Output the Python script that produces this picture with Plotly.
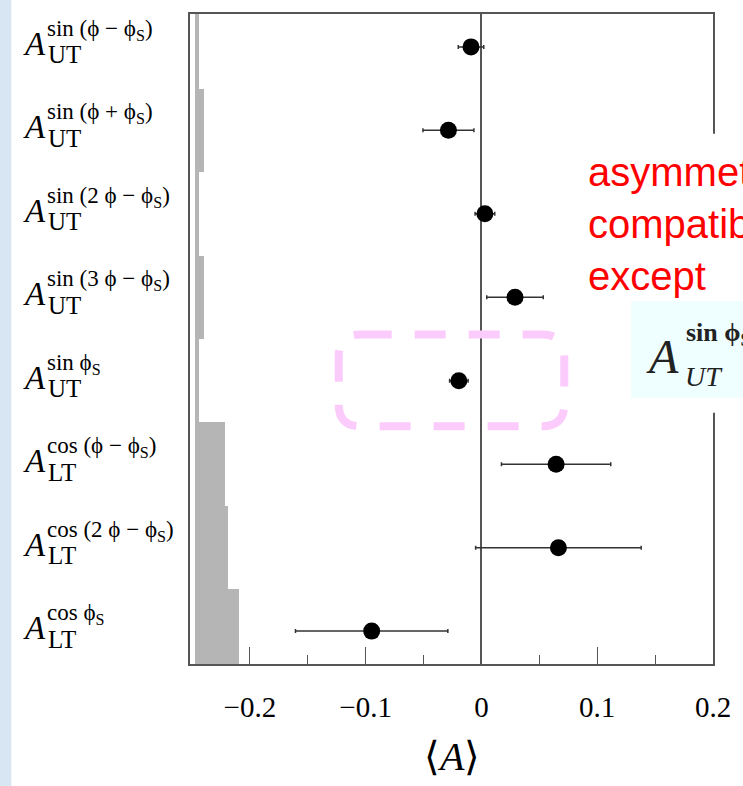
import plotly.graph_objects as go

# ---------------- data ----------------
sup_labels = ["sin (ϕ − ϕ<sub>S</sub>)", "sin (ϕ + ϕ<sub>S</sub>)", "sin (2 ϕ − ϕ<sub>S</sub>)",
              "sin (3 ϕ − ϕ<sub>S</sub>)", "sin ϕ<sub>S</sub>", "cos (ϕ − ϕ<sub>S</sub>)",
              "cos (2 ϕ − ϕ<sub>S</sub>)", "cos ϕ<sub>S</sub>"]
sub_labels = ["UT", "UT", "UT", "UT", "UT", "LT", "LT", "LT"]
values = [-0.009, -0.0285, 0.003, 0.029, -0.0195, 0.0645, 0.0665, -0.0948]
errors = [0.011, 0.022, 0.0085, 0.0244, 0.008, 0.0472, 0.0715, 0.0658]
syst = [0.004, 0.0078, 0.004, 0.0083, 0.0035, 0.026, 0.029, 0.0385]
syst_base = -0.2478
x_tickvals = [-0.2, -0.1, 0, 0.1, 0.2]
x_ticktext = ["−0.2", "−0.1", "0", "0.1", "0.2"]
x_minor = [-0.15, -0.05, 0.05, 0.15]
note_lines = ["asymmetries", "compatible", "except"]

rows = list(range(len(values)))

W, H = 743, 786
ML, MR, MT, MB = 190, 29, 12, 122
PW, PH = W - ML - MR, H - MT - MB


def px(x):
    return (x - ML) / PW


def py(y):
    return (H - MB - y) / PH


SERIF = "Liberation Serif"

fig = go.Figure()

# systematic band
fig.add_trace(go.Bar(
    y=rows, x=syst, base=syst_base, orientation="h", width=1.0,
    marker=dict(color="#b5b5b5", line=dict(width=0)),
    showlegend=False, hoverinfo="skip"))

# measurements
fig.add_trace(go.Scatter(
    x=values, y=rows, mode="markers",
    marker=dict(size=17, color="black"),
    error_x=dict(type="data", array=errors, visible=True, thickness=1.5, width=2, color="#333"),
    showlegend=False))

annotations = []
for i in rows:
    annotations.append(dict(x=px(21), y=i, xref="paper", yref="y", xanchor="left", yanchor="middle",
                            text="<i>A</i>", showarrow=False, yshift=3,
                            font=dict(family=SERIF, size=33, color="black")))
    annotations.append(dict(x=px(45), y=i, xref="paper", yref="y", xanchor="left", yanchor="middle",
                            text=sup_labels[i], showarrow=False, yshift=17,
                            font=dict(family=SERIF, size=23, color="black")))
    annotations.append(dict(x=px(46), y=i, xref="paper", yref="y", xanchor="left", yanchor="middle",
                            text=sub_labels[i], showarrow=False, yshift=-8,
                            font=dict(family=SERIF, size=25, color="black")))

# x axis title
annotations.append(dict(x=0.5, y=py(757), xref="paper", yref="paper", xanchor="center", yanchor="middle",
                        text="⟨<i>A</i>⟩", showarrow=False,
                        font=dict(family=SERIF, size=40, color="black")))

# red note
annotations.append(dict(x=px(587), y=py(146), xref="paper", yref="paper", xanchor="left", yanchor="top",
                        text="<br>".join(note_lines), showarrow=False, align="left",
                        font=dict(family="Liberation Sans", size=40, color="#ff0000")))

# formula in cyan box
annotations.append(dict(x=px(645), y=py(356), xref="paper", yref="paper", xanchor="left", yanchor="middle",
                        text="<i>A</i>", showarrow=False,
                        font=dict(family=SERIF, size=48, color="#222")))
annotations.append(dict(x=px(685), y=py(333), xref="paper", yref="paper", xanchor="left", yanchor="middle",
                        text="<b>sin ϕ<sub>S</sub></b>", showarrow=False,
                        font=dict(family=SERIF, size=26, color="#222")))
annotations.append(dict(x=px(684), y=py(376), xref="paper", yref="paper", xanchor="left", yanchor="middle",
                        text="<i>UT</i>", showarrow=False,
                        font=dict(family=SERIF, size=28, color="#222")))

shapes = [
    # light blue strip at the left edge
    dict(type="rect", xref="paper", yref="paper", x0=px(-2), x1=px(11), y0=py(-2), y1=py(H + 2),
         fillcolor="#d8e5f3", line=dict(width=0), layer="above"),
    # white panel behind the note
    dict(type="rect", xref="paper", yref="paper", x0=px(578), x1=px(W + 5), y0=py(132), y1=py(412),
         fillcolor="white", line=dict(width=0), layer="above"),
    # light cyan box for formula
    dict(type="rect", xref="paper", yref="paper", x0=px(632), x1=px(W + 5), y0=py(300), y1=py(397),
         fillcolor="#effefe", line=dict(width=0), layer="above"),
]

# pink dashed rounded rectangle
x0, x1, y0, y1, r = 339, 565, 333.5, 425.5, 22
path = (f"M {px(x0 + r)},{py(y0)} L {px(x1 - r)},{py(y0)} Q {px(x1)},{py(y0)} {px(x1)},{py(y0 + r)} "
        f"L {px(x1)},{py(y1 - r)} Q {px(x1)},{py(y1)} {px(x1 - r)},{py(y1)} "
        f"L {px(x0 + r)},{py(y1)} Q {px(x0)},{py(y1)} {px(x0)},{py(y1 - r)} "
        f"L {px(x0)},{py(y0 + r)} Q {px(x0)},{py(y0)} {px(x0 + r)},{py(y0)} Z")
shapes.append(dict(type="path", xref="paper", yref="paper", path=path,
                   line=dict(color="#fbcbfb", width=8, dash="31px,23px"), layer="above"))

fig.update_layout(
    width=W, height=H,
    margin=dict(l=ML, r=MR, t=MT, b=MB, pad=0),
    paper_bgcolor="white", plot_bgcolor="white",
    bargap=0,
    showlegend=False,
    annotations=annotations,
    shapes=shapes,
    xaxis=dict(range=[-0.2517, 0.2], tickvals=x_tickvals, ticktext=x_ticktext,
               ticks="inside", ticklen=17, tickwidth=1.3, tickcolor="#555",
               minor=dict(tickvals=x_minor, ticks="inside", ticklen=9, tickwidth=1.3, tickcolor="#555"),
               showgrid=False, zeroline=True, zerolinecolor="#555", zerolinewidth=1.5,
               showline=True, linecolor="#555", linewidth=1.5, mirror=True,
               tickfont=dict(family=SERIF, size=29, color="black"), ticklabelstandoff=16),
    yaxis=dict(range=[7.394, -0.394], showticklabels=False, ticks="", showgrid=False, zeroline=False,
               showline=True, linecolor="#555", linewidth=1.5, mirror=True),
)

fig.write_html("out.html")
